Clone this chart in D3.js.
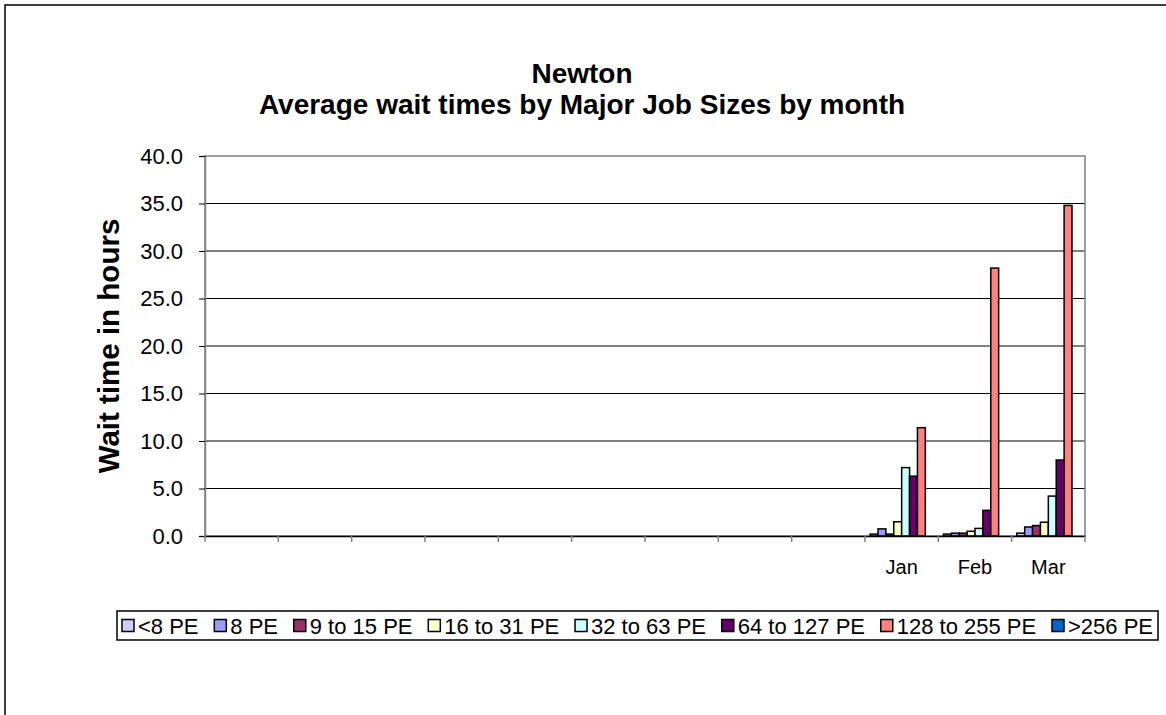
<!DOCTYPE html>
<html>
<head>
<meta charset="utf-8">
<script src="https://cdn.jsdelivr.net/npm/d3@7"></script>
<style>
  html, body { margin: 0; padding: 0; background: #fff; }
  svg { display: block; }
  text { font-family: "Liberation Sans", Arial, sans-serif; fill: #000; }
</style>
</head>
<body>
<svg id="chart" width="1166" height="715"></svg>
<script>
// Fiscal-year months; only the last three carry data and labels
const monthKeys = ["Apr", "May", "Jun", "Jul", "Aug", "Sep", "Oct", "Nov", "Dec", "Jan", "Feb", "Mar"];
const monthLabels = ["", "", "", "", "", "", "", "", "", "Jan", "Feb", "Mar"];

const seriesNames = ["<8 PE", "8 PE", "9 to 15 PE", "16 to 31 PE", "32 to 63 PE", "64 to 127 PE", "128 to 255 PE", ">256 PE"];
const seriesColors = ["#CCCCFF", "#9999FF", "#993366", "#FFFFCC", "#CCFFFF", "#660066", "#FF8080", "#0066CC"];

// Average wait in hours, one entry per month (null = no jobs)
const waitLt8     = [null, null, null, null, null, null, null, null, null, 0.2, 0.2, 0.3];
const wait8       = [null, null, null, null, null, null, null, null, null, 0.75, 0.3, 0.95];
const wait9to15   = [null, null, null, null, null, null, null, null, null, 0.2, 0.3, 1.1];
const wait16to31  = [null, null, null, null, null, null, null, null, null, 1.5, 0.5, 1.45];
const wait32to63  = [null, null, null, null, null, null, null, null, null, 7.2, 0.8, 4.2];
const wait64to127 = [null, null, null, null, null, null, null, null, null, 6.3, 2.7, 8.0];
const wait128to255= [null, null, null, null, null, null, null, null, null, 11.4, 28.2, 34.8];
const wait256plus = [null, null, null, null, null, null, null, null, null, 0, 0, 0];

const seriesValues = [waitLt8, wait8, wait9to15, wait16to31, wait32to63, wait64to127, wait128to255, wait256plus];

const yTicks = [0, 5, 10, 15, 20, 25, 30, 35, 40];

const titleLines = ["Newton", "Average wait times by Major Job Sizes by month"];
const yTitle = "Wait time in hours";

const svg = d3.select("#chart");

// Outer chart frame
svg.append("path")
  .attr("d", "M5,715 L5,5 L1166,5")
  .attr("fill", "none")
  .attr("stroke", "#000")
  .attr("stroke-width", 1.5);

const plot = { left: 205, right: 1085, top: 156, bottom: 536 };

const x0 = d3.scaleBand()
  .domain(monthKeys)
  .range([plot.left, plot.right])
  .paddingInner(0).paddingOuter(0);

const gapRatio = 1.3; // gap between groups, as a multiple of one bar width
const groupW = x0.bandwidth();
const barW = groupW / (seriesNames.length + gapRatio);
const x1 = d3.scaleBand()
  .domain(seriesNames)
  .range([barW * gapRatio / 2, groupW - barW * gapRatio / 2])
  .padding(0);

const y = d3.scaleLinear().domain([0, 40]).range([plot.bottom, plot.top]);

// Gridlines
svg.append("g")
  .selectAll("line")
  .data(yTicks.filter(t => t > 0 && t < 40))
  .join("line")
  .attr("x1", plot.left).attr("x2", plot.right)
  .attr("y1", d => y(d)).attr("y2", d => y(d))
  .attr("stroke", "#000").attr("stroke-width", 1);

// Plot area frame
svg.append("rect")
  .attr("x", plot.left).attr("y", plot.top)
  .attr("width", plot.right - plot.left).attr("height", plot.bottom - plot.top)
  .attr("fill", "none").attr("stroke", "#808080").attr("stroke-width", 1.5);

// Bars
const rows = [];
seriesNames.forEach((name, si) => {
  seriesValues[si].forEach((v, mi) => {
    if (v !== null) rows.push({ name, color: seriesColors[si], month: monthKeys[mi], value: v });
  });
});

svg.append("g")
  .selectAll("rect")
  .data(rows)
  .join("rect")
  .attr("x", d => x0(d.month) + x1(d.name))
  .attr("y", d => y(d.value))
  .attr("width", x1.bandwidth())
  .attr("height", d => y(0) - y(d.value))
  .attr("fill", d => d.color)
  .attr("stroke", "#000")
  .attr("stroke-width", 1.5);

// Y axis
const yAxis = d3.axisLeft(y)
  .tickValues(yTicks)
  .tickFormat(d3.format(".1f"))
  .tickSize(6)
  .tickPadding(16);
const yg = svg.append("g").attr("transform", `translate(${plot.left},0)`).call(yAxis);
yg.select(".domain").attr("stroke", "#808080").attr("stroke-width", 1.5);
yg.selectAll(".tick line").attr("stroke", "#000");
yg.selectAll(".tick text")
  .style("font-family", '"Liberation Sans", Arial, sans-serif')
  .style("font-size", "22px")
  .attr("fill", "#000");

// X axis
const xAxis = d3.axisBottom(x0)
  .tickFormat((d, i) => monthLabels[i])
  .tickSize(0)
  .tickPadding(24);
const xg = svg.append("g").attr("transform", `translate(0,${plot.bottom})`).call(xAxis);
xg.select(".domain").attr("stroke", "#000").attr("stroke-width", 1.5);
xg.selectAll(".tick text")
  .style("font-family", '"Liberation Sans", Arial, sans-serif')
  .style("font-size", "20px")
  .attr("fill", "#000");

// Category separators on the x axis
svg.append("g")
  .selectAll("line")
  .data(d3.range(monthKeys.length + 1))
  .join("line")
  .attr("x1", i => plot.left + i * groupW).attr("x2", i => plot.left + i * groupW)
  .attr("y1", plot.bottom).attr("y2", plot.bottom + 6)
  .attr("stroke", "#808080").attr("stroke-width", 1.5);

// Titles
svg.append("text")
  .attr("x", 582).attr("y", 83)
  .attr("text-anchor", "middle")
  .style("font-size", "28px").style("font-weight", "bold")
  .text(titleLines[0]);
svg.append("text")
  .attr("x", 582).attr("y", 114)
  .attr("text-anchor", "middle")
  .style("font-size", "28px").style("font-weight", "bold")
  .text(titleLines[1]);

svg.append("text")
  .attr("transform", `translate(119,${(plot.top + plot.bottom) / 2}) rotate(-90)`)
  .attr("text-anchor", "middle")
  .style("font-size", "29.5px").style("font-weight", "bold")
  .text(yTitle);

// Legend
const legendBox = { x: 117, y: 611, w: 1041, h: 29 };
svg.append("rect")
  .attr("x", legendBox.x).attr("y", legendBox.y)
  .attr("width", legendBox.w).attr("height", legendBox.h)
  .attr("fill", "#fff").attr("stroke", "#000").attr("stroke-width", 1.5);

const sw = 12, swGap = 4, pad = 5;
const lg = svg.append("g");
const items = lg.selectAll("g")
  .data(seriesNames.map((n, i) => ({ name: n, color: seriesColors[i] })))
  .join("g");
items.append("rect")
  .attr("width", sw).attr("height", sw)
  .attr("y", legendBox.y + legendBox.h / 2 - sw / 2)
  .attr("fill", d => d.color).attr("stroke", "#000").attr("stroke-width", 1.5);
items.append("text")
  .attr("y", legendBox.y + legendBox.h / 2 + 8)
  .style("font-size", "22px")
  .text(d => d.name);

const widths = [];
items.select("text").each(function () { widths.push(this.getComputedTextLength()); });
const used = d3.sum(widths) + seriesNames.length * (sw + swGap);
const itemGap = (legendBox.w - 2 * pad - used) / (seriesNames.length - 1);
let cx = legendBox.x + pad;
items.each(function (d, i) {
  const g = d3.select(this);
  g.select("rect").attr("x", cx);
  g.select("text").attr("x", cx + sw + swGap);
  cx += sw + swGap + widths[i] + itemGap;
});
</script>
</body>
</html>
